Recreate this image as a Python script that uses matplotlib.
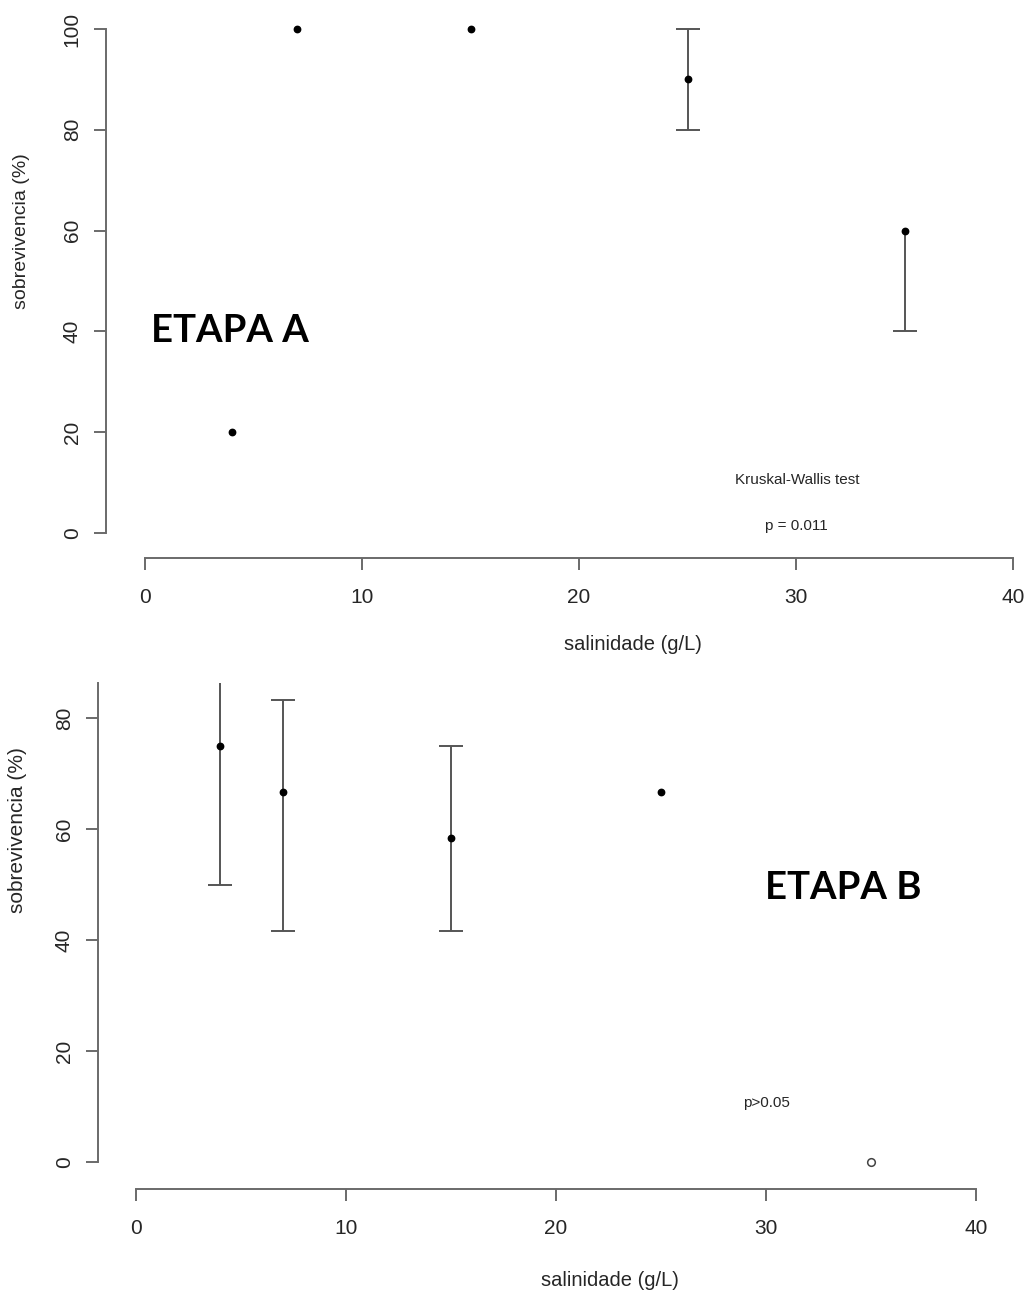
import matplotlib
matplotlib.use("Agg")
import matplotlib.pyplot as plt

# ---------------- data ----------------
salinity_ticks = [0, 10, 20, 30, 40]

# Etapa A
a_x = [4, 7, 15, 25, 35]
a_mean = [20, 100, 100, 90, 60]
a_low = [20, 100, 100, 80, 40]
a_high = [20, 100, 100, 100, 60]
a_yticks = [0, 20, 40, 60, 80, 100]

# Etapa B
b_x = [4, 7, 15, 25]
b_mean = [75, 66.7, 58.3, 66.7]
b_low = [50, 41.7, 41.7, 66.7]
b_high = [100, 83.3, 75, 66.7]
b_open_x = [35]
b_open_y = [0]
b_yticks = [0, 20, 40, 60, 80]

xlabel = "salinidade (g/L)"
ylabel = "sobrevivencia (%)"

# ---------------- layout ----------------
W, H = 1026, 1296
DPI = 100
plt.rcParams['font.family'] = ['Liberation Sans', 'DejaVu Sans']
fig = plt.figure(figsize=(W / DPI, H / DPI), dpi=DPI)
fig.patch.set_facecolor('white')

AX_COL = '#6a6a6a'
TXT_COL = '#262626'
BAR_COL = '#555555'
PX2PT = 72.0 / DPI


def fx(px):
    return px / W


def fy(py):
    return 1 - py / H


def make_axes(left, right, top, bottom, ylim, yticks, lpos, bpos):
    ax = fig.add_axes([fx(left), fy(bottom), (right - left) / W, (bottom - top) / H])
    ax.set_xlim(0, 40)
    ax.set_ylim(*ylim)
    ax.patch.set_alpha(0)
    for s in ['top', 'right']:
        ax.spines[s].set_visible(False)
    ax.spines['left'].set_position(('outward', lpos * PX2PT))
    ax.spines['bottom'].set_position(('outward', bpos * PX2PT))
    ax.spines['left'].set_bounds(0, ylim[1])
    ax.spines['bottom'].set_bounds(0, 40)
    for s in ['left', 'bottom']:
        ax.spines[s].set_color(AX_COL)
        ax.spines[s].set_linewidth(1.4)
    ax.set_xticks(salinity_ticks)
    ax.set_xticklabels([str(t) for t in salinity_ticks])
    ax.set_yticks(yticks)
    ax.set_yticklabels([str(t) for t in yticks])
    ax.tick_params(axis='both', direction='out', length=8.5, width=1.4,
                   color=AX_COL, labelcolor=TXT_COL, labelsize=15)
    ax.tick_params(axis='x', pad=13)
    ax.tick_params(axis='y', pad=9)
    for lbl in ax.get_yticklabels():
        lbl.set_rotation(90)
        lbl.set_va('center')
        lbl.set_ha('right')
    return ax


def draw_errbars(ax, xs, mean, low, high, clip=True):
    for x, m, lo, hi in zip(xs, mean, low, high):
        if hi > m:
            ax.vlines(x, m, hi, color=BAR_COL, lw=1.4, clip_on=clip, zorder=2)
            ax.plot([x], [hi], marker='_', ms=17, mew=1.4, color=BAR_COL,
                    clip_on=clip, zorder=2)
        if lo < m:
            ax.vlines(x, lo, m, color=BAR_COL, lw=1.4, clip_on=clip, zorder=2)
            ax.plot([x], [lo], marker='_', ms=17, mew=1.4, color=BAR_COL,
                    clip_on=clip, zorder=2)
    ax.plot(xs, mean, 'o', ms=4.6, color='black', ls='none', clip_on=False, zorder=3)


# ---------- top panel (Etapa A) ----------
axA = make_axes(145, 1013, 29, 533, (0, 100), a_yticks, lpos=39, bpos=25)
draw_errbars(axA, a_x, a_mean, a_low, a_high, clip=False)

fig.text(fx(633), fy(645), xlabel, ha='center', va='center', fontsize=14.5, color=TXT_COL)
fig.text(fx(22), fy(231), ylabel, ha='center', va='center', rotation=90,
         fontsize=14, color=TXT_COL)
fig.text(fx(797), fy(480), "Kruskal-Wallis test", ha='center', va='center',
         fontsize=11, color=TXT_COL)
fig.text(fx(796), fy(526), "p = 0.011", ha='center', va='center',
         fontsize=11, color=TXT_COL)
fig.text(fx(151), fy(342), "ETAPA A", ha='left', va='baseline', fontsize=27.5,
         fontweight='bold', color='black', family=['Lato', 'DejaVu Sans'])

# ---------- bottom panel (Etapa B) ----------
b_top_val = (1162 - 683) / ((1162 - 718) / 80.0)
axB = make_axes(136, 976, 683, 1162, (0, b_top_val), b_yticks, lpos=38, bpos=27)
draw_errbars(axB, b_x, b_mean, b_low, b_high, clip=True)
axB.plot(b_open_x, b_open_y, 'o', ms=5.5, mfc='white', mec='#444444', mew=1.1,
         ls='none', clip_on=False, zorder=3)

fig.text(fx(610), fy(1281), xlabel, ha='center', va='center', fontsize=14.5, color=TXT_COL)
fig.text(fx(18), fy(830), ylabel, ha='center', va='center', rotation=90,
         fontsize=15, color=TXT_COL)
fig.text(fx(766), fy(1103), "p>0.05", ha='center', va='center',
         fontsize=11, color=TXT_COL)
fig.text(fx(765), fy(899), "ETAPA B", ha='left', va='baseline', fontsize=27.5,
         fontweight='bold', color='black', family=['Lato', 'DejaVu Sans'])

fig.savefig("out.png", dpi=DPI, facecolor='white')
